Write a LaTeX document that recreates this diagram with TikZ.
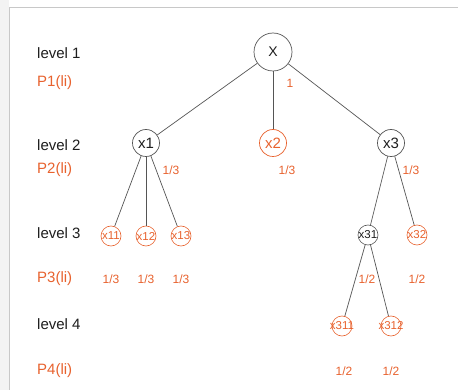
\documentclass[tikz,border=0pt]{standalone}
\usepackage{fontspec}
\setmainfont{Liberation Sans}
\definecolor{ora}{RGB}{232,98,46}
\definecolor{ink}{RGB}{30,30,30}
\definecolor{edge}{RGB}{85,85,85}
\definecolor{frame}{RGB}{200,200,200}
\definecolor{strip}{RGB}{243,243,243}
\tikzset{
  lvl/.style={anchor=west, inner sep=0pt, text=ink, font=\fontsize{15}{18}\selectfont},
  plbl/.style={anchor=west, inner sep=0pt, text=ora, font=\fontsize{15}{18}\selectfont},
  prob/.style={inner sep=0pt, text=ora, font=\fontsize{12}{14}\selectfont},
  bignode/.style={circle, draw=edge, line width=0.7pt, minimum size=38pt, inner sep=0pt, text=ink, font=\fontsize{14}{16}\selectfont},
  midnode/.style={circle, draw=edge, line width=0.7pt, minimum size=27pt, inner sep=0pt, text=ink, font=\fontsize{15}{17}\selectfont},
  midorange/.style={midnode, draw=ora, text=ora},
  smallnode/.style={circle, draw=edge, line width=0.6pt, minimum size=20pt, inner sep=0pt, text=ink, font=\fontsize{11.5}{13}\selectfont},
  smallorange/.style={smallnode, draw=ora, text=ora},
  conn/.style={draw=edge, line width=0.7pt}
}
\newcommand{\ovl}[1]{\makebox[0pt]{#1}}
\begin{document}
\begin{tikzpicture}[x=1pt,y=-1pt]
\useasboundingbox (0,0) rectangle (458,390);
\fill[white] (0,0) rectangle (458,390);
\fill[strip] (0,0) rectangle (9,390);
\draw[frame, line width=0.8pt] (9.5,390) -- (9.5,7.5) -- (458,7.5);

% level labels
\node[lvl] (l1) at (37,53) {level 1};
\node[plbl] (p1) at (37,83) {P1(li)};
\node[lvl] (l2) at (37,145) {level 2};
\node[plbl] (p2) at (37,170) {P2(li)};
\node[lvl] (l3) at (37,233) {level 3};
\node[plbl] (p3) at (37,279) {P3(li)};
\node[lvl] (l4) at (37,324) {level 4};
\node[plbl] (p4) at (37,371) {P4(li)};

% tree nodes
\node[bignode] (X) at (273,52) {X};
\node[midnode] (x1) at (146,143) {\ovl{x1}};
\node[midorange] (x2) at (273,143) {\ovl{x2}};
\node[midnode] (x3) at (391,143) {\ovl{x3}};
\node[smallorange] (x11) at (111,236) {\ovl{x11}};
\node[smallorange] (x12) at (146,236) {\ovl{x12}};
\node[smallorange] (x13) at (181,236) {\ovl{x13}};
\node[smallnode] (x31) at (368,235) {\ovl{x31}};
\node[smallorange] (x32) at (417,235) {\ovl{x32}};
\node[smallorange] (x311) at (342,326) {\ovl{x311}};
\node[smallorange] (x312) at (391,326) {\ovl{x312}};

% connectors
\draw[conn] (X) -- (x1);
\draw[conn] (X) -- (x2);
\draw[conn] (X) -- (x3);
\draw[conn] (x1) -- (x11);
\draw[conn] (x1) -- (x12);
\draw[conn] (x1) -- (x13);
\draw[conn] (x3) -- (x31);
\draw[conn] (x3) -- (x32);
\draw[conn] (x31) -- (x311);
\draw[conn] (x31) -- (x312);

% probabilities
\node[prob] (q1) at (290,83) {1};
\node[prob] (q21) at (171,170) {1/3};
\node[prob] (q22) at (287,170) {1/3};
\node[prob] (q23) at (411,170) {1/3};
\node[prob] (q31) at (111,279) {1/3};
\node[prob] (q32) at (146,279) {1/3};
\node[prob] (q33) at (181,279) {1/3};
\node[prob] (q34) at (367,279) {1/2};
\node[prob] (q35) at (417,279) {1/2};
\node[prob] (q41) at (344,371) {1/2};
\node[prob] (q42) at (391,371) {1/2};
\end{tikzpicture}
\end{document}
